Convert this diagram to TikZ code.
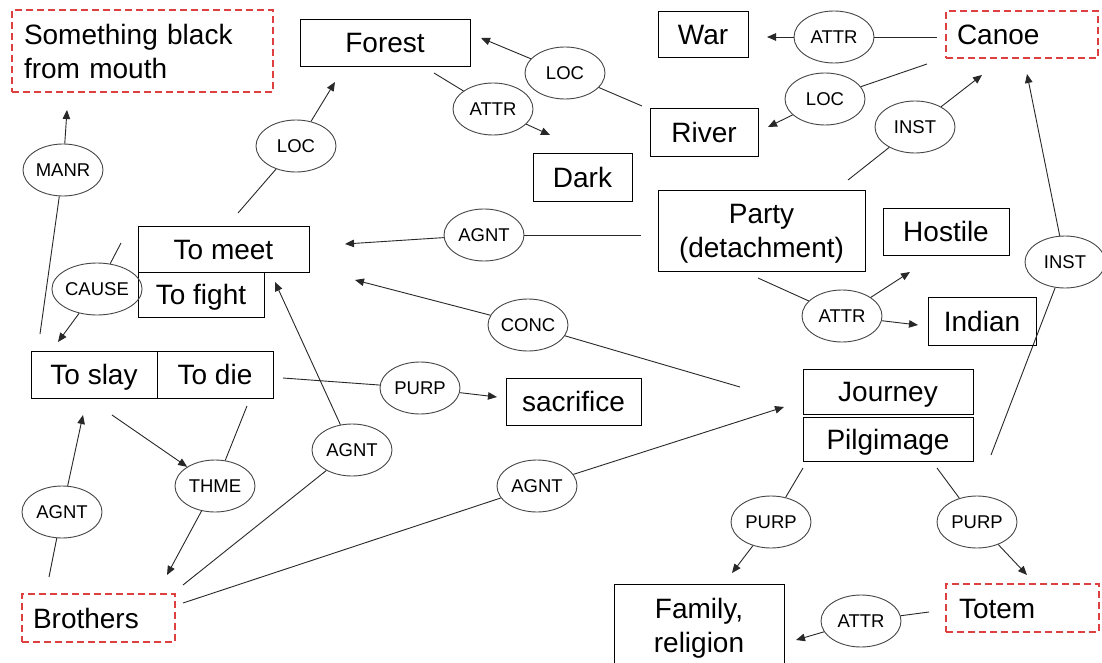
\documentclass[tikz,border=0pt]{standalone}
\usepackage{fontspec}
\setmainfont{Liberation Sans}
\usetikzlibrary{arrows.meta,shapes.geometric}
\definecolor{rd}{RGB}{222,64,64}
\definecolor{ln}{RGB}{40,40,40}
\definecolor{el}{RGB}{70,70,70}
\begin{document}
\begin{tikzpicture}[x=1pt,y=-1pt,
  box/.style={draw=black, line width=0.9pt, rectangle, inner sep=0pt,
    font=\fontsize{28}{34}\selectfont, text height=20.5pt, text depth=0pt},
  redbox/.style={box, draw=rd, line width=1.2pt, dash pattern=on 7pt off 4pt, align=left},
  twoline/.style={text depth=34pt},
  rel/.style={draw=el, ellipse, line width=0.9pt, minimum width=80pt,
    minimum height=52pt, inner sep=0pt, font=\fontsize{18.5}{20}\selectfont},
  con/.style={draw=ln, line width=0.9pt},
  arr/.style={con, -{Triangle[length=9pt,width=7.5pt]}}
]
\useasboundingbox[fill=white] (0,0) rectangle (1102,663);

% boxes
\node[redbox, twoline, minimum width=261pt, minimum height=82pt, inner xsep=12pt, text width=237pt] (mouth) at (142.5,51) {Something black\\from mouth};
\node[box, minimum width=170pt, minimum height=47pt] (forest) at (385,42.5) {Forest};
\node[box, minimum width=90pt, minimum height=46pt] (war) at (703,34) {War};
\node[redbox, minimum width=152pt, minimum height=47pt, inner xsep=11pt, text width=130pt] (canoe) at (1022,34.5) {Canoe};
\node[box, minimum width=108pt, minimum height=48pt] (river) at (704,132) {River};
\node[box, minimum width=99pt, minimum height=48pt] (dark) at (582.5,177) {Dark};
\node[box, twoline, align=center, text width=207pt, minimum width=207pt, minimum height=81pt] (party) at (761.5,230.5) {Party\\(detachment)};
\node[box, minimum width=126pt, minimum height=47pt] (hostile) at (946,231.5) {Hostile};
\node[box, minimum width=108pt, minimum height=48pt] (indian) at (982,321) {Indian};
\node[box, minimum width=170pt, minimum height=45pt] (journey) at (888,391.5) {Journey};
\node[box, minimum width=170pt, minimum height=44pt] (pilg) at (888,439) {Pilgimage};
\node[box, minimum width=171pt, minimum height=46pt] (meet) at (223.5,249) {To meet};
\node[box, minimum width=126pt, minimum height=45pt] (fight) at (201,294.5) {To fight};
\node[box, minimum width=126pt, minimum height=47pt] (slay) at (94,374.5) {To slay};
\node[box, minimum width=116pt, minimum height=47pt] (die) at (215,374.5) {To die};
\node[box, minimum width=135pt, minimum height=47pt] (sacrifice) at (573.5,401.5) {sacrifice};
\node[redbox, minimum width=153pt, minimum height=48pt, inner xsep=11pt, text width=131pt] (brothers) at (98.5,618) {Brothers};
\node[box, twoline, align=center, text width=170pt, minimum width=170pt, minimum height=82pt] (family) at (699,625) {Family,\\religion};
\node[redbox, minimum width=153pt, minimum height=48pt, inner xsep=13pt, text width=127pt] (totem) at (1022.5,608) {Totem};

% relation ellipses
\node[rel] (manr) at (63,170) {MANR};
\node[rel] (locA) at (296,146) {LOC};
\node[rel] (locB) at (565,73) {LOC};
\node[rel] (attrF) at (493,109) {ATTR};
\node[rel] (attrW) at (834,37) {ATTR};
\node[rel] (locR) at (825,99) {LOC};
\node[rel] (instA) at (915,127) {INST};
\node[rel] (instB) at (1065,262) {INST};
\node[rel] (agntP) at (484,235) {AGNT};
\node[rel] (conc) at (528,325) {CONC};
\node[rel] (purpS) at (420,388) {PURP};
\node[rel] (attrP) at (842,316) {ATTR};
\node[rel] (cause) at (97,289) {CAUSE};
\node[rel] (thme) at (215,486) {THME};
\node[rel] (agntL) at (62,512) {AGNT};
\node[rel] (agntM) at (352,450) {AGNT};
\node[rel] (agntJ) at (537,486) {AGNT};
\node[rel] (purpF) at (771,522) {PURP};
\node[rel] (purpT) at (977,522) {PURP};
\node[rel] (attrT) at (861,621) {ATTR};

% free ends of connectors
\coordinate (manrS) at (40,334);   \coordinate (manrE) at (67,110);
\coordinate (locAS) at (238,213);  \coordinate (locAE) at (335,82);
\coordinate (locBS) at (642,106);  \coordinate (locBE) at (481,38);
\coordinate (attrFS) at (434,73);  \coordinate (attrFE) at (550,135);
\coordinate (attrWS) at (937,37);  \coordinate (attrWE) at (767,37);
\coordinate (locRS) at (927,64);   \coordinate (locRE) at (768,127);
\coordinate (instAS) at (848,180); \coordinate (instAE) at (982,75);
\coordinate (instBS) at (991,455); \coordinate (instBE) at (1027,74);
\coordinate (agntPS) at (641,235); \coordinate (agntPE) at (345,244);
\coordinate (concS) at (740,387);  \coordinate (concE) at (355,280);
\coordinate (purpSS) at (283,378); \coordinate (purpSE) at (497,397);
\coordinate (attrPS) at (758,278); \coordinate (attrPE) at (910,272); \coordinate (attrPF) at (918,325);
\coordinate (causeS) at (121,243); \coordinate (causeE) at (58,342);
\coordinate (thmeS) at (112,415);  \coordinate (thmeT) at (247,406); \coordinate (thmeE) at (167,575);
\coordinate (agntLS) at (49,577);  \coordinate (agntLE) at (83,415);
\coordinate (agntMS) at (183,585); \coordinate (agntME) at (275,282);
\coordinate (agntJS) at (183,603); \coordinate (agntJE) at (784,407);
\coordinate (purpFS) at (803,468); \coordinate (purpFE) at (732,573);
\coordinate (purpTS) at (937,468); \coordinate (purpTE) at (1027,575);
\coordinate (attrTS) at (929,612); \coordinate (attrTE) at (796,640);

% connectors
\draw[con] (manrS) -- (manr);   \draw[arr] (manr) -- (manrE);
\draw[con] (locAS) -- (locA);   \draw[arr] (locA) -- (locAE);
\draw[con] (locBS) -- (locB);   \draw[arr] (locB) -- (locBE);
\draw[con] (attrFS) -- (attrF); \draw[arr] (attrF) -- (attrFE);
\draw[con] (attrWS) -- (attrW); \draw[arr] (attrW) -- (attrWE);
\draw[con] (locRS) -- (locR);   \draw[arr] (locR) -- (locRE);
\draw[con] (instAS) -- (instA); \draw[arr] (instA) -- (instAE);
\draw[con] (instBS) -- (instB); \draw[arr] (instB) -- (instBE);
\draw[con] (agntPS) -- (agntP); \draw[arr] (agntP) -- (agntPE);
\draw[con] (concS) -- (conc);   \draw[arr] (conc) -- (concE);
\draw[con] (purpSS) -- (purpS); \draw[arr] (purpS) -- (purpSE);
\draw[con] (attrPS) -- (attrP); \draw[arr] (attrP) -- (attrPE); \draw[arr] (attrP) -- (attrPF);
\draw[con] (causeS) -- (cause); \draw[arr] (cause) -- (causeE);
\draw[arr] (thmeS) -- (thme);   \draw[con] (thmeT) -- (thme); \draw[arr] (thme) -- (thmeE);
\draw[con] (agntLS) -- (agntL); \draw[arr] (agntL) -- (agntLE);
\draw[con] (agntMS) -- (agntM); \draw[arr] (agntM) -- (agntME);
\draw[con] (agntJS) -- (agntJ); \draw[arr] (agntJ) -- (agntJE);
\draw[con] (purpFS) -- (purpF); \draw[arr] (purpF) -- (purpFE);
\draw[con] (purpTS) -- (purpT); \draw[arr] (purpT) -- (purpTE);
\draw[con] (attrTS) -- (attrT); \draw[arr] (attrT) -- (attrTE);
\end{tikzpicture}
\end{document}
